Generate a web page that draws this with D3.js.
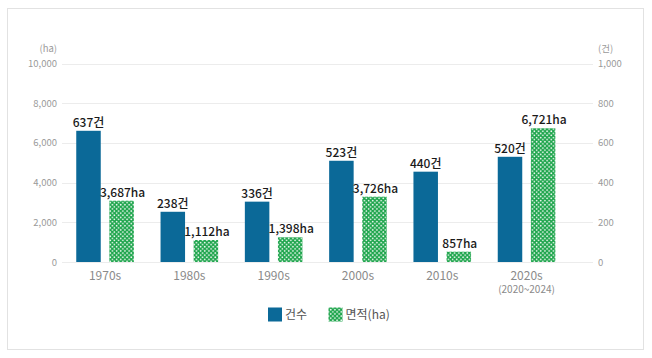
<!DOCTYPE html>
<html><head><meta charset="utf-8">
<script src="https://cdn.jsdelivr.net/npm/d3@7/dist/d3.min.js"></script>
<style>
html,body{margin:0;padding:0;background:#fff;}
svg{display:block;font-family:"Noto Sans CJK KR","Noto Sans",sans-serif;}
</style></head>
<body><svg id="c" width="652" height="358"></svg>
<script>
// ---- data ----
const categories = ["1970s","1980s","1990s","2000s","2010s","2020s"];
const categorySub = ["","","","","","(2020~2024)"];
// reported values (labels)
const countLabels = [637, 238, 336, 523, 440, 520];          // 건
const areaLabels = [3687, 1112, 1398, 3726, 857, 6721];      // ha
// bar heights as drawn in the picture
const countDrawn = [661, 253, 304, 510, 455, 530];
const areaDrawn = [3088, 1108, 1244, 3290, 519, 6736];
const leftTicks = [0, 2000, 4000, 6000, 8000, 10000];
const rightTicks = [0, 200, 400, 600, 800, 1000];
const seriesNames = ["건수", "면적(ha)"];

const svg = d3.select("#c");
const blue = "#0b6998", green = "#1ea54c";

// frame
svg.append("rect").attr("x",7.5).attr("y",8.5).attr("width",636).attr("height",341)
  .attr("fill","#fff").attr("stroke","#e2e2e2");

// pattern
const defs = svg.append("defs");
const pat = defs.append("pattern").attr("id","dots").attr("patternUnits","userSpaceOnUse")
  .attr("width",4.2).attr("height",4.2);
pat.append("rect").attr("width",4.2).attr("height",4.2).attr("fill",green);
pat.append("circle").attr("cx",1.05).attr("cy",1.05).attr("r",0.85).attr("fill","#fff");
pat.append("circle").attr("cx",3.15).attr("cy",3.15).attr("r",0.85).attr("fill","#fff");

const x = d3.scaleBand().domain(categories).range([62.9, 568.7]).padding(0);
const yL = d3.scaleLinear().domain([0,10000]).range([262, 63.5]);
const yR = d3.scaleLinear().domain([0,1000]).range([262, 63.5]);

const gridX0 = 62, gridX1 = 593;
// gridlines
svg.append("g").selectAll("line").data(leftTicks).join("line")
  .attr("x1",gridX0).attr("x2",gridX1)
  .attr("y1",d=>Math.round(yL(d))+0.5).attr("y2",d=>Math.round(yL(d))+0.5)
  .attr("stroke","#ececec").attr("stroke-width",1);

// left axis
const axL = svg.append("g").attr("transform",`translate(${gridX0},0)`)
  .call(d3.axisLeft(yL).tickValues(leftTicks).tickSize(0).tickPadding(5).tickFormat(d3.format(",")));
axL.select(".domain").remove();
axL.selectAll("text").attr("fill","#9a9a9a").style("font-size","9.5px").style("font-family","'Noto Sans CJK KR','Noto Sans',sans-serif");
// right axis
const axR = svg.append("g").attr("transform",`translate(${gridX1},0)`)
  .call(d3.axisRight(yR).tickValues(rightTicks).tickSize(0).tickPadding(5).tickFormat(d3.format(",")));
axR.select(".domain").remove();
axR.selectAll("text").attr("fill","#9a9a9a").style("font-size","9.5px").style("font-family","'Noto Sans CJK KR','Noto Sans',sans-serif");

// unit labels
svg.append("text").attr("x",57).attr("y",51.5).attr("text-anchor","end")
  .attr("fill","#9a9a9a").style("font-size","9.5px").text("(ha)");
svg.append("text").attr("x",598).attr("y",51.5).attr("text-anchor","start")
  .attr("fill","#9a9a9a").style("font-size","9.5px").text("(건)");

const bw = 24.5, gap = 4.3;
const c = d => x(d) + x.bandwidth()/2;

// bars
const g = svg.append("g");
g.selectAll(".cb").data(categories).join("rect").attr("class","cb")
  .attr("x",(d)=>c(d)-gap-bw).attr("width",bw)
  .attr("y",(d,i)=>yR(countDrawn[i])).attr("height",(d,i)=>yR(0)-yR(countDrawn[i]))
  .attr("fill",blue);
g.selectAll(".ab").data(categories).join("rect").attr("class","ab")
  .attr("x",(d)=>c(d)+gap).attr("width",bw)
  .attr("y",(d,i)=>yL(areaDrawn[i])).attr("height",(d,i)=>yL(0)-yL(areaDrawn[i]))
  .attr("fill","url(#dots)");

// value labels
g.selectAll(".cl").data(categories).join("text").attr("class","cl")
  .attr("x",d=>c(d)-gap-bw/2).attr("y",(d,i)=>yR(countDrawn[i])-4)
  .attr("text-anchor","middle").attr("fill","#1a1a1a").style("font-size","12px").style("font-weight",500)
  .text((d,i)=>d3.format(",")(countLabels[i])+"건");
g.selectAll(".al").data(categories).join("text").attr("class","al")
  .attr("x",d=>c(d)+gap+bw/2+1).attr("y",(d,i)=>yL(areaDrawn[i])-4)
  .attr("text-anchor","middle").attr("fill","#1a1a1a").style("font-size","12px").style("font-weight",500)
  .text((d,i)=>d3.format(",")(areaLabels[i])+"ha");

// category labels
const axB = svg.append("g").attr("transform","translate(0,261)")
  .call(d3.axisBottom(x).tickSize(0).tickPadding(10));
axB.select(".domain").remove();
axB.selectAll("text").attr("fill","#8a8a8a").style("font-size","12px").style("font-family","'Noto Sans CJK KR','Noto Sans',sans-serif");
svg.selectAll(".sub").data(categories.filter((d,i)=>categorySub[i])).join("text").attr("class","sub")
  .attr("x",d=>c(d)).attr("y",293).attr("text-anchor","middle")
  .attr("fill","#8a8a8a").style("font-size","10px")
  .text(d=>categorySub[categories.indexOf(d)]);

// legend
const leg = svg.append("g");
const legX = [268, 328.5];
leg.selectAll("rect").data(seriesNames).join("rect")
  .attr("x",(d,i)=>legX[i]).attr("y",307.5).attr("width",14).attr("height",14)
  .attr("fill",(d,i)=>i===0?blue:"url(#dots)");
leg.selectAll("text").data(seriesNames).join("text")
  .attr("x",(d,i)=>legX[i]+17).attr("y",319)
  .attr("fill","#555").style("font-size","12px").text(d=>d);
</script></body></html>
